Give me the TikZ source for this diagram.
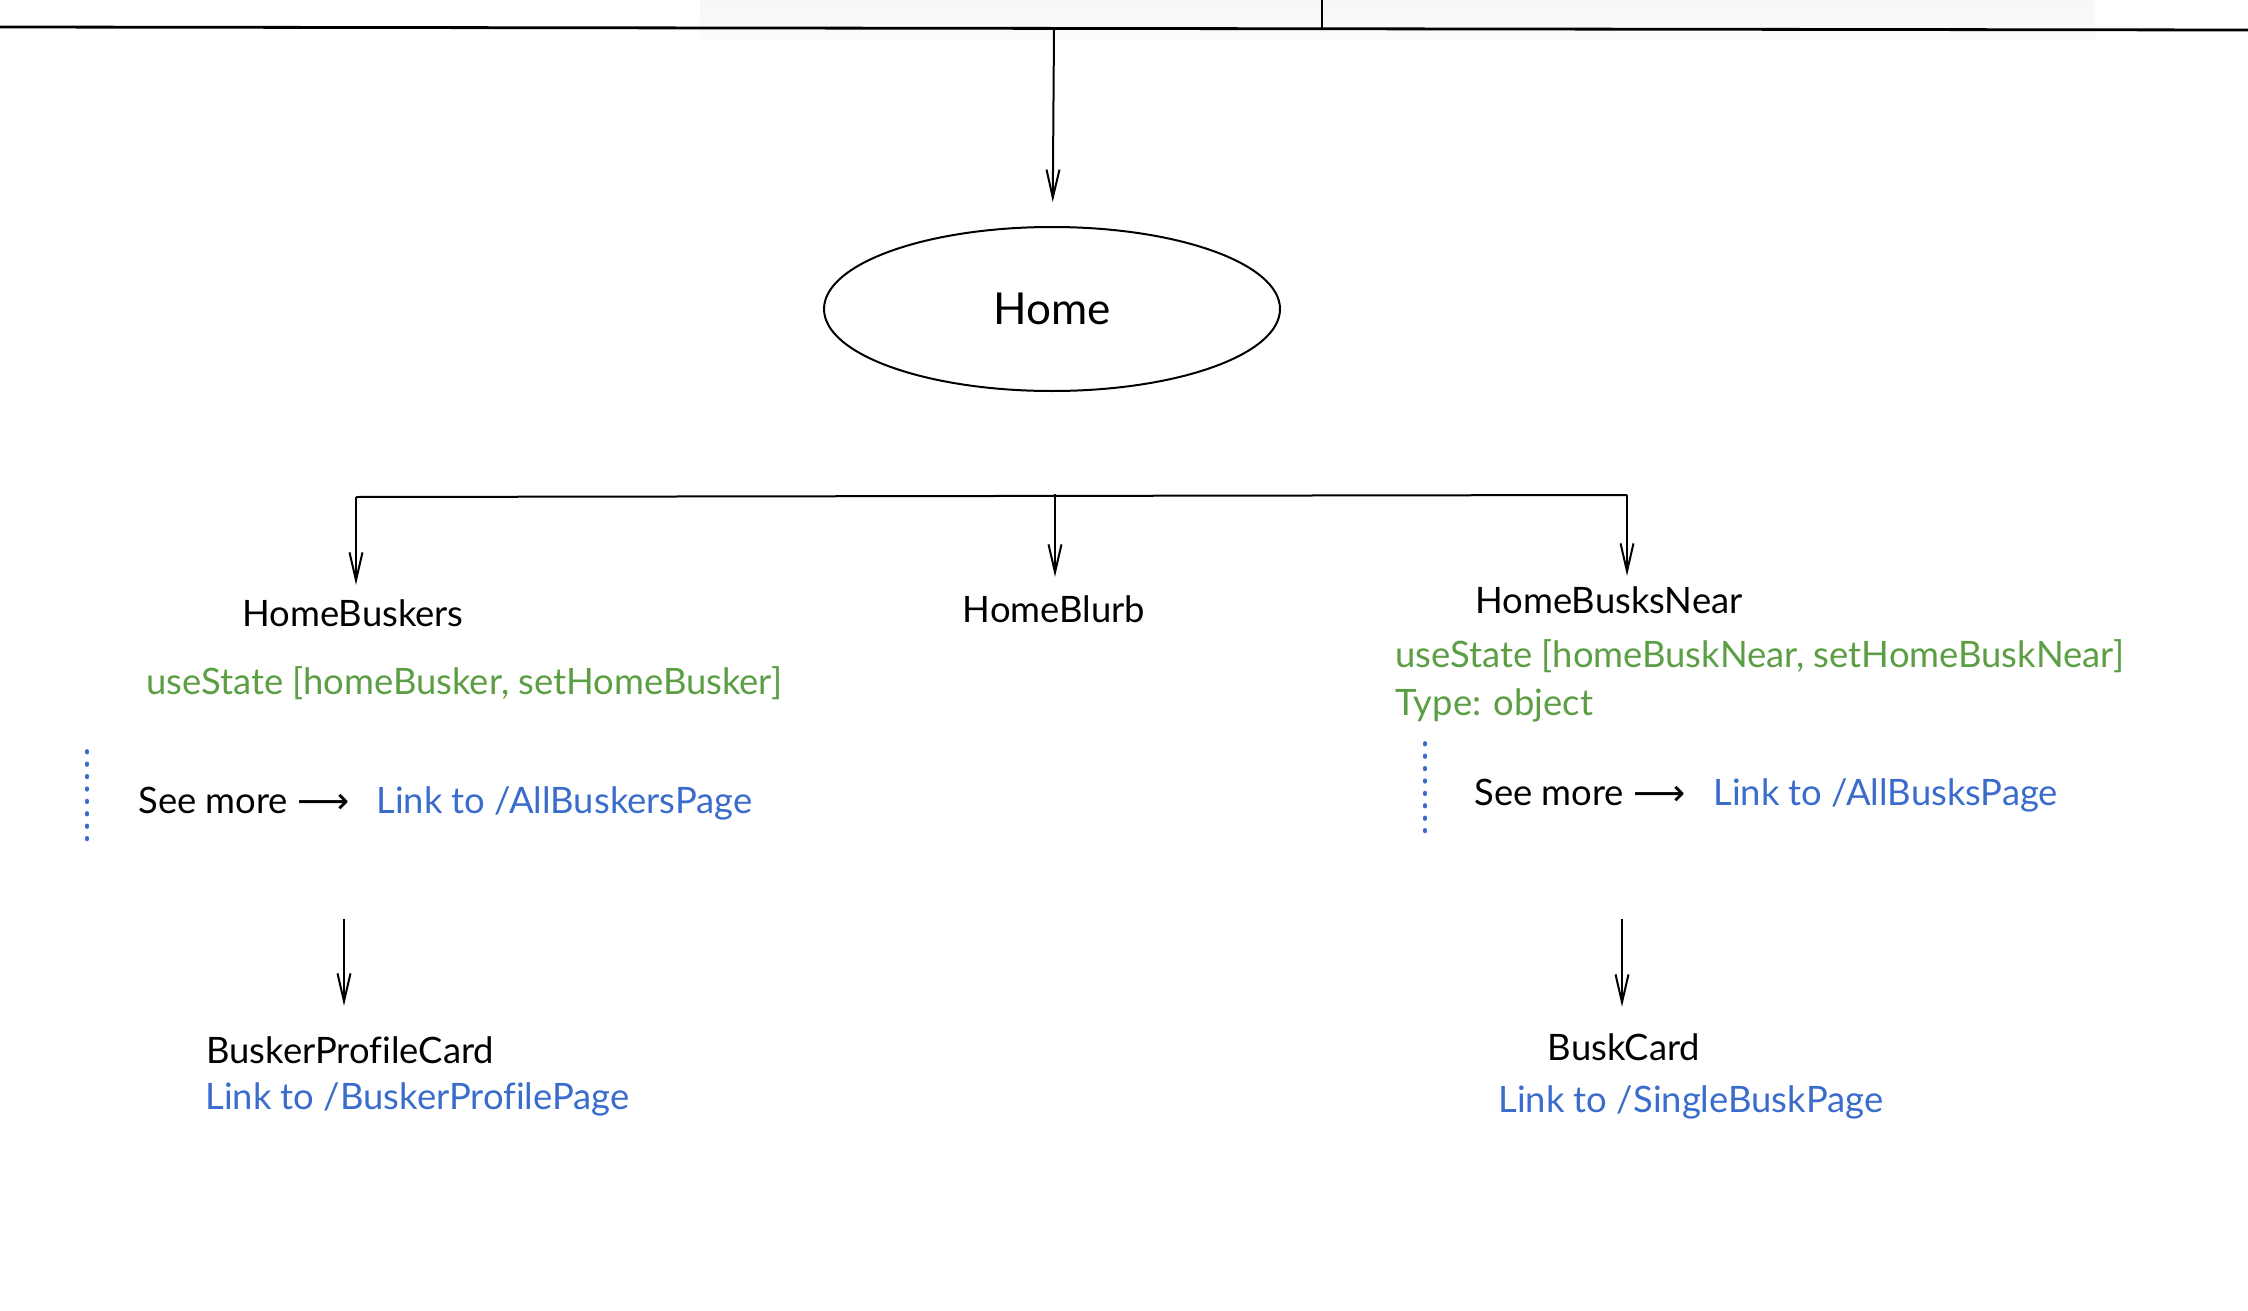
\documentclass[tikz,border=0pt]{standalone}
\usepackage{fontspec}
\setmainfont[Ligatures=NoCommon]{Lato}
\newfontfamily\arrowfont{DejaVu Sans}
\usepackage{tikz}
\usetikzlibrary{arrows.meta,shapes.geometric}
\definecolor{stategreen}{RGB}{92,158,68}
\definecolor{linkblue}{RGB}{58,108,204}
\tikzset{>={Straight Barb[length=14pt,width=6.5pt]}}
\tikzset{
  comp/.style={font=\fontsize{18.2}{22}\selectfont, inner sep=0pt},
  state/.style={comp, text=stategreen, anchor=base west},
  link/.style={comp, text=linkblue, anchor=base west},
  wire/.style={line width=1pt},
  dotline/.style={linkblue, line width=1.8pt, line cap=round, dash pattern=on 0.8pt off 5.4pt},
}

\begin{document}
\begin{tikzpicture}[x=0.5pt,y=-0.5pt]
            \useasboundingbox (0,0) rectangle (2248,1311);
            % shadow of the card above and the line from it
            \shade[top color=black!3, bottom color=black!1.5] (700,0) rectangle (2095,40);
            \draw[line width=1.4pt] (0,27) -- (2248,30);
            \draw[wire] (1322,0) -- (1322,29);
            \coordinate (top) at (1054,29);

            \node[draw, ellipse, wire, minimum width=228pt, minimum height=82pt,
                  font=\fontsize{22}{26}\selectfont] (Home) at (1052,309) {Home};
            \draw[wire,->,shorten >=12pt] (top) -- (Home);

            % three children
            \coordinate (bl) at (356,497);
            \coordinate (bm) at (1055,494);
            \coordinate (br) at (1627,495);
            \draw[wire] (bl) -- (br);
            \node[comp, anchor=base] (HomeBuskers) at (353,626) {HomeBuskers};
            \node[comp, anchor=base] (HomeBlurb) at (1054,622) {HomeBlurb};
            \node[comp, anchor=base] (HomeBusksNear) at (1609,613) {HomeBusksNear};
            \draw[wire,->,shorten >=7pt] (bl) -- (bl |- HomeBuskers.north);
            \draw[wire,->,shorten >=9pt] (bm) -- (bm |- HomeBlurb.north);
            \draw[wire,->,shorten >=5pt] (br) -- (br |- HomeBusksNear.north);

            % left column
            \node[state] (stateBuskers) at (146,694) {useState [homeBusker, setHomeBusker]};
            \draw[dotline] (87,751) -- (87,850);
            \node[comp, anchor=base west] (seeBuskers) at (138,813) {See more {\arrowfont ⟶}};
            \node[link] (linkBuskers) at (376,813) {Link to /AllBuskersPage};
            \coordinate (cardL) at (344,919);
            \node[comp, anchor=base west] (BuskerProfileCard) at (206,1063) {BuskerProfileCard};
            \node[link] (linkProfile) at (205,1109) {Link to /BuskerProfilePage};
            \draw[wire,->,shorten >=15pt] (cardL) -- (cardL |- BuskerProfileCard.north);

            % right column
            \node[state] (stateBusks) at (1395,667) {useState [homeBuskNear, setHomeBuskNear]};
            \node[state] (typeBusks) at (1395,715) {Type: object};
            \draw[dotline] (1425,743) -- (1425,839);
            \node[comp, anchor=base west] (seeBusks) at (1474,805) {See more {\arrowfont ⟶}};
            \node[link] (linkBusks) at (1713,805) {Link to /AllBusksPage};
            \coordinate (cardR) at (1622,919);
            \node[comp, anchor=base] (BuskCard) at (1624,1060) {BuskCard};
            \node[link] (linkSingle) at (1498,1112) {Link to /SingleBuskPage};
            \draw[wire,->,shorten >=13pt] (cardR) -- (cardR |- BuskCard.north);
\end{tikzpicture}
\end{document}
